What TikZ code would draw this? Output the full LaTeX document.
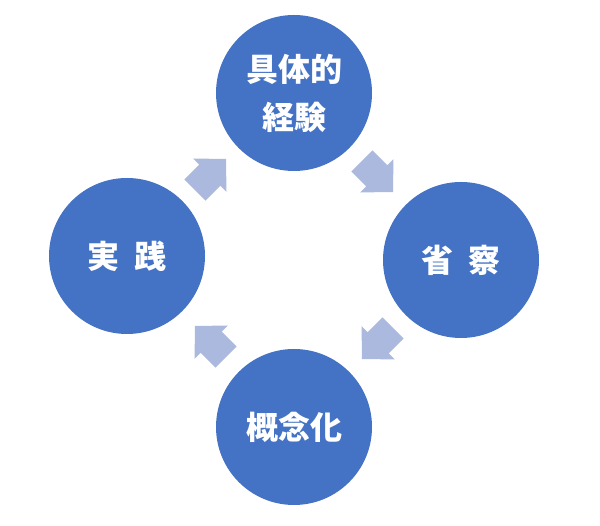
\documentclass[tikz,border=0pt]{standalone}
\usepackage{fontspec}
\setmainfont{Noto Sans CJK JP}
\usetikzlibrary{calc}
\definecolor{circblue}{HTML}{4472C4}
\definecolor{arrowblue}{HTML}{ABB9DE}
\tikzset{
  stage/.style={circle, fill=circblue, draw=none, minimum size=156pt, inner sep=0pt,
    text=white, align=center, font=\fontsize{32}{48}\selectfont\bfseries},
  cyclearrow/.pic={
    \fill[arrowblue] (-22,15) -- (-1,15) -- (-1,23.5) -- (22,0) -- (-1,-23.5) -- (-1,-15) -- (-22,-15) -- cycle;
  }
}
\begin{document}
\begin{tikzpicture}[x=1pt,y=1pt]
\useasboundingbox (0,0) rectangle (600,526);
\fill[white] (0,0) rectangle (600,526);
\node[stage] (top) at (294,433) {具体的\\経験};
\node[stage] (right) at (461,266) {省\hspace{0.45em}察};
\node[stage] (bottom) at (294,99) {概念化};
\node[stage] (left) at (127,270) {実\hspace{0.45em}践};
\pic[rotate=-45] at ($(top)!0.5!(right)$) {cyclearrow};
\pic[rotate=-135] at ($(right)!0.5!(bottom)$) {cyclearrow};
\pic[rotate=135] at ($(bottom)!0.5!(left)$) {cyclearrow};
\pic[rotate=45] at ($(left)!0.5!(top)$) {cyclearrow};
\end{tikzpicture}
\end{document}
